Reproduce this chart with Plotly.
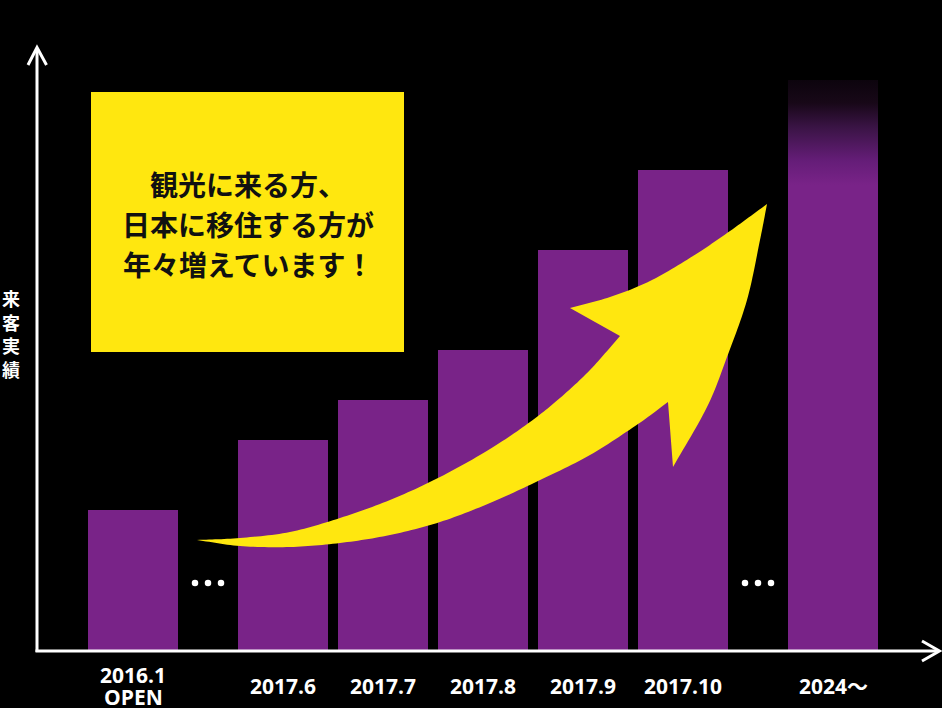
import numpy as np
import plotly.graph_objects as go

# ---------------- data ----------------
categories = ["2016.1\nOPEN", "2017.6", "2017.7", "2017.8", "2017.9", "2017.10", "2024～"]
visitors = [141, 211, 251, 301, 401, 481, 571]          # relative visitor index
slot_gaps = [0, 3, 2, 2, 2, 2, 3]                        # 3 = skipped period ("…")
y_title_chars = ["来", "客", "実", "績"]
message_lines = ["観光に来る方、", "日本に移住する方が", "年々増えています！"]

# ---------------- layout constants ----------------
W, H = 942, 708
L, R, T, B = 37, 5, 50, 57
PW, PH = W - L - R, H - T - B
XR = [-1.92, 16.08]
YR = [0, PH]
BAR_W = 1.8
PURPLE = "#792388"
YELLOW = "#FFE70F"
fade_len = 105            # length of fading top of last bar (axis units)
ellipsis_h = 68

x_pos = list(np.cumsum(slot_gaps).astype(float))
gap_centers = [(x_pos[i - 1] + x_pos[i]) / 2 for i in range(1, len(x_pos)) if slot_gaps[i] == 3]


def pxx(x):
    return (x - L) / PW


def pxy(y):
    return (H - B - y) / PH


def catmull(pts, n=14):
    pts = np.array(pts, float)
    P = np.vstack([pts[0] * 2 - pts[1], pts, pts[-1] * 2 - pts[-2]])
    out = []
    for i in range(1, len(P) - 2):
        p0, p1, p2, p3 = P[i - 1], P[i], P[i + 1], P[i + 2]
        for t in np.linspace(0, 1, n, endpoint=False):
            t2, t3 = t * t, t * t * t
            out.append(0.5 * ((2 * p1) + (-p0 + p2) * t + (2 * p0 - 5 * p1 + 4 * p2 - p3) * t2
                              + (-p0 + 3 * p1 - 3 * p2 + p3) * t3))
    out.append(P[-2])
    return out


fig = go.Figure()

# bars
fig.add_trace(go.Bar(x=x_pos, y=visitors, width=BAR_W, marker=dict(color=PURPLE, line=dict(width=0)),
                     hoverinfo="skip", showlegend=False))

# fading top on last bar
xl, xr_ = x_pos[-1] - BAR_W / 2, x_pos[-1] + BAR_W / 2
hi = visitors[-1]
lo = hi - fade_len
fig.add_trace(go.Scatter(
    x=[xl, xr_, xr_, xl, xl], y=[lo, lo, hi, hi, lo], mode="lines", fill="toself",
    line=dict(width=0, color="rgba(0,0,0,0)"),
    fillgradient=dict(type="vertical", start=hi, stop=lo,
                      colorscale=[[0, "#0c040d"], [0.22, "#180818"], [0.45, "#3a1445"],
                                  [0.77, "#651d78"], [1, PURPLE]]),
    hoverinfo="skip", showlegend=False))

# ellipsis dots
dx, dy = [], []
for c in gap_centers:
    for o in (-0.26, 0, 0.26):
        dx.append(c + o)
        dy.append(ellipsis_h)
fig.add_trace(go.Scatter(x=dx, y=dy, mode="markers", marker=dict(color="white", size=6.5),
                         hoverinfo="skip", showlegend=False))

shapes = []
# axes with arrow heads
ax_line = dict(color="white", width=3)
shapes.append(dict(type="line", xref="paper", yref="paper", x0=pxx(37), y0=pxy(652), x1=pxx(37), y1=pxy(48), line=ax_line))
shapes.append(dict(type="line", xref="paper", yref="paper", x0=pxx(35.5), y0=pxy(651), x1=pxx(939), y1=pxy(651), line=ax_line))
shapes.append(dict(type="path", xref="paper", yref="paper",
                   path=f"M {pxx(28)},{pxy(65)} L {pxx(37)},{pxy(47.5)} L {pxx(46.5)},{pxy(65)}", line=ax_line))
shapes.append(dict(type="path", xref="paper", yref="paper",
                   path=f"M {pxx(922)},{pxy(641)} L {pxx(939.5)},{pxy(651)} L {pxx(922)},{pxy(661)}", line=ax_line))

# yellow message box
shapes.append(dict(type="rect", xref="paper", yref="paper", x0=pxx(91), x1=pxx(404), y0=pxy(352), y1=pxy(92),
                   fillcolor=YELLOW, line=dict(width=0), layer="above"))

# curved arrow
upper = catmull([(197, 540), (240, 538), (290, 532), (340, 518), (390, 500), (440, 477), (490, 449),
                 (530, 422), (560, 398), (590, 370), (620, 336)])
head_top = catmull([(570, 308), (610, 297), (650, 281), (693, 256), (730, 231), (767, 204)])
head_right = catmull([(767, 204), (760, 240), (747, 300), (727, 357), (707, 407), (673, 467)])
lower = catmull([(668, 402), (638, 424), (590, 455), (538, 481), (490, 503), (440, 522), (390, 535),
                 (340, 543), (290, 547), (240, 546), (197, 540)])
pts = upper + head_top + head_right + lower
path = "M " + " L ".join(f"{pxx(p[0]):.5f},{pxy(p[1]):.5f}" for p in pts) + " Z"
shapes.append(dict(type="path", xref="paper", yref="paper", path=path, fillcolor=YELLOW,
                   line=dict(width=0), layer="above"))

annotations = []
# x labels
for xp, lab in zip(x_pos, categories):
    lines = lab.split("\n")
    n = len(lines)
    for k, ln in enumerate(lines):
        off = (k - (n - 1) / 2) * 21.5
        annotations.append(dict(x=xp, y=0, xref="x", yref="paper", text=ln, showarrow=False,
                                yanchor="middle", xanchor="center", yshift=-35 - off,
                                font=dict(family="Open Sans, Noto Sans CJK JP", size=21, color="white", weight=700)))
# y title (stacked vertical)
for k, ch in enumerate(y_title_chars):
    annotations.append(dict(x=pxx(11), y=pxy(298 + k * 23.5), xref="paper", yref="paper", text=ch,
                            showarrow=False, xanchor="center", yanchor="middle",
                            font=dict(family="Noto Sans CJK JP", size=18, color="white", weight=700)))
# message
for k, ln in enumerate(message_lines):
    annotations.append(dict(x=pxx(248), y=pxy(184 + k * 40), xref="paper", yref="paper", text=ln,
                            showarrow=False, xanchor="center", yanchor="middle",
                            font=dict(family="Noto Sans CJK JP", size=28, color="#111111", weight=700)))

fig.update_layout(
    width=W, height=H, margin=dict(l=L, r=R, t=T, b=B, pad=0),
    paper_bgcolor="black", plot_bgcolor="black",
    xaxis=dict(range=XR, showgrid=False, zeroline=False, showticklabels=False, ticks="", showline=False),
    yaxis=dict(range=YR, showgrid=False, zeroline=False, showticklabels=False, ticks="", showline=False),
    shapes=shapes, annotations=annotations, bargap=0, showlegend=False,
)

fig.write_html("out.html", config={"displayModeBar": False},
               post_script="document.body.style.margin='0';document.body.style.background='black';"
                           "document.body.style.overflow='hidden';")
